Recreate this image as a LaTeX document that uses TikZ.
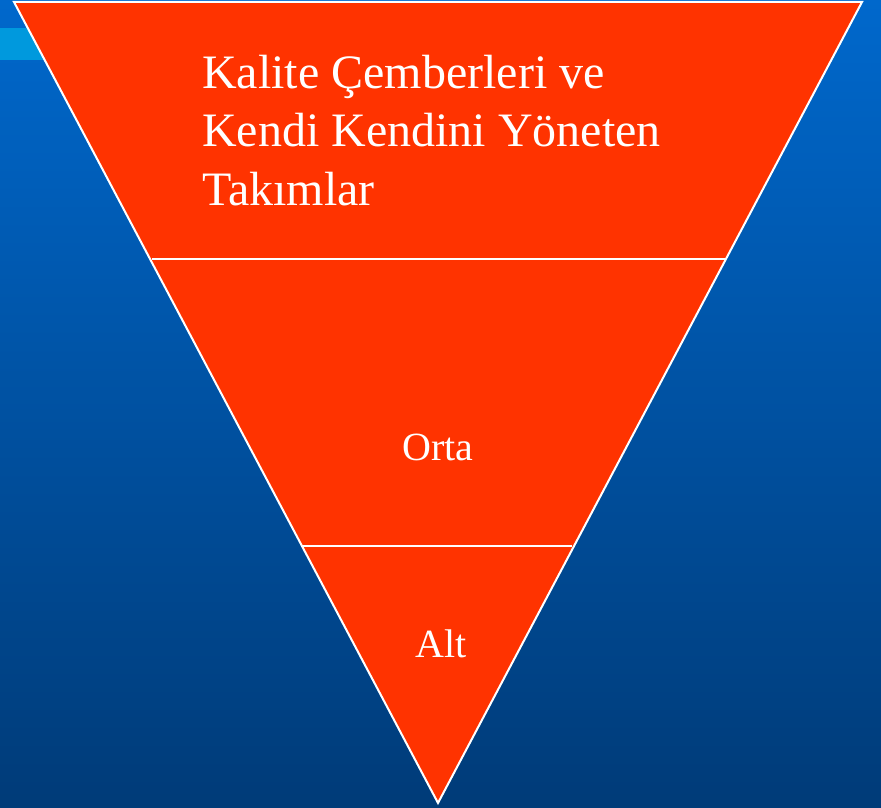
\documentclass[tikz,border=0pt]{standalone}
\usepackage{fontspec}
\setmainfont{Liberation Serif}
\definecolor{bgtop}{HTML}{0068CC}
\definecolor{bgbot}{HTML}{003B78}
\definecolor{barblue}{HTML}{0099DD}
\definecolor{tri}{HTML}{FF3300}
\tikzset{
  level/.style={fill=tri},
  edge/.style={draw=white, line width=2pt},
  divider/.style={draw=white, line width=2pt},
  label/.style={text=white, font=\fontsize{40}{40}\selectfont, inner sep=0pt, anchor=base},
}
\begin{document}
\begin{tikzpicture}[x=1pt,y=-1pt]
\useasboundingbox (0,0) rectangle (881,808);
\shade[top color=bgtop, bottom color=bgbot] (0,0) rectangle (881,808);
\fill[barblue] (0,28) rectangle (60,60);
\coordinate (tl) at (14,2);
\coordinate (tr) at (862,2);
\coordinate (ap) at (438,803);
\path[level] (tl) -- (tr) -- (ap) -- cycle;
\draw[edge, line join=miter] (tl) -- (tr) -- (ap) -- cycle;
\coordinate (a1) at (152,258.5);
\coordinate (b1) at (724.5,258.5);
\coordinate (a2) at (302,546);
\coordinate (b2) at (572,546);
\draw[divider] (a1) -- (b1);
\draw[divider] (a2) -- (b2);
\node[text=white, font=\fontsize{48}{58.5}\selectfont, inner sep=0pt, anchor=base west, align=left] (top) at (202,205) {Kalite Çemberleri ve\\Kendi Kendini Yöneten\\Takımlar};
\node[label] (orta) at (438,460) {Orta};
\node[label] (alt) at (441,657) {Alt};
\end{tikzpicture}
\end{document}
